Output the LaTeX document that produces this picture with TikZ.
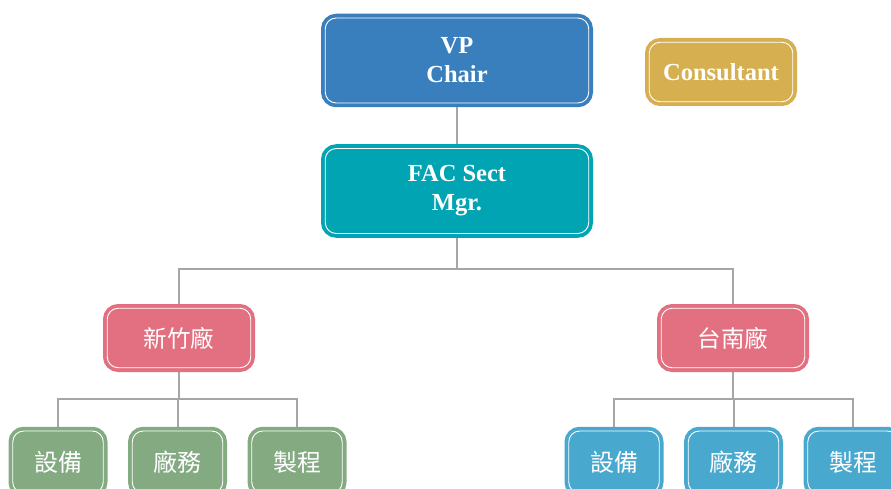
\documentclass[tikz,border=0pt]{standalone}
\usepackage{fontspec}
\setmainfont{Liberation Serif}
\newfontfamily\cjk{Noto Sans CJK TC}
\usetikzlibrary{backgrounds}

\definecolor{vpblue}{RGB}{58,127,189}
\definecolor{facteal}{RGB}{0,164,178}
\definecolor{consgold}{RGB}{214,176,80}
\definecolor{plantpink}{RGB}{227,112,128}
\definecolor{deptgreen}{RGB}{132,170,130}
\definecolor{deptblue}{RGB}{72,168,206}
\definecolor{linkgray}{RGB}{166,166,166}

\tikzset{
  orgbox/.style={rectangle, rounded corners=11pt, fill=#1, draw=#1,
    double=white, double distance=0.9pt, line width=3.8pt,
    text=white, align=center, inner sep=0pt},
  titlebox/.style={orgbox=#1, minimum width=263.5pt, minimum height=85pt,
    font=\bfseries\fontsize{24.5}{29}\selectfont},
  plantbox/.style={orgbox=#1, minimum width=143.5pt, minimum height=59.5pt,
    font=\cjk\fontsize{23.5}{28}\selectfont},
  deptbox/.style={orgbox=#1, minimum width=90.5pt, minimum height=62pt,
    font=\cjk\fontsize{24}{28}\selectfont},
  link/.style={linkgray, line width=2pt}
}

\begin{document}
\begin{tikzpicture}[x=1pt, y=-1pt]
    \useasboundingbox (0,0) rectangle (891,489);
    \clip (0,0) rectangle (891,489);

    % Top levels
    \node[titlebox=vpblue] (vp) at (457,60.5) {VP\\Chair};
    \node[titlebox=facteal] (fac) at (457,191) {FAC Sect\\Mgr.};
    \node[orgbox=consgold, minimum width=143.5pt, minimum height=59.5pt,
          font=\bfseries\fontsize{24.5}{29}\selectfont] (cons) at (721,72) {Consultant};

    % Plants
    \node[plantbox=plantpink] (hsinchu) at (179,338) {新竹廠};
    \node[plantbox=plantpink] (tainan) at (733,338) {台南廠};

    % Departments
    \foreach \name/\txt [count=\i] in {eq/設備, fa/廠務, pr/製程} {
        \node[deptbox=deptgreen] (hs-\name) at (58+119.5*\i-119.5,462) {\txt};
        \node[deptbox=deptblue] (tn-\name) at (614+119.5*\i-119.5,462) {\txt};
    }

    % Connectors
    \coordinate (facsplit) at (457,269);
    \coordinate (hssplit) at (179,399);
    \coordinate (tnsplit) at (733,399);
    \begin{scope}[on background layer]
        \draw[link] (vp.south) -- (fac.north);
        \draw[link] (fac.south) -- (facsplit) -| (hsinchu.north);
        \draw[link] (facsplit) -| (tainan.north);
        \foreach \name in {eq,fa,pr} {
            \draw[link] (hsinchu.south) -- (hssplit) -| (hs-\name.north);
            \draw[link] (tainan.south) -- (tnsplit) -| (tn-\name.north);
        }
    \end{scope}
\end{tikzpicture}
\end{document}
